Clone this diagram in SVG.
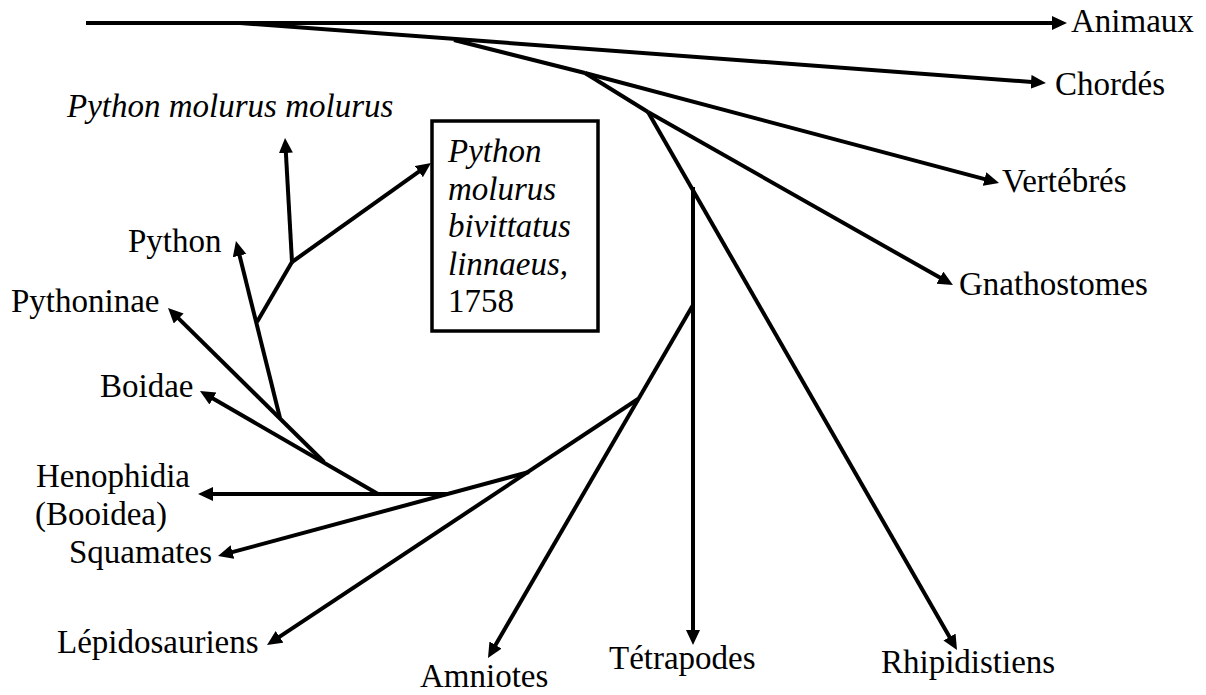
<svg xmlns="http://www.w3.org/2000/svg" width="1206" height="695" viewBox="0 0 1206 695">
<defs>
<marker id="arr" markerUnits="userSpaceOnUse" markerWidth="17" markerHeight="15" refX="7" refY="7" orient="auto">
<path d="M0,0 L15,7 L0,14 z" fill="#000"/>
</marker>
<style>
.l{fill:none;stroke:#000;stroke-width:4}
.a{fill:none;stroke:#000;stroke-width:4;marker-end:url(#arr)}
text{font-family:"Liberation Serif","Times New Roman",serif;font-size:33px;fill:#000}
.i{font-style:italic}
</style>
</defs>
<rect width="1206" height="695" fill="#fff"/>
<g id="connectors">
<line class="a" x1="86" y1="23" x2="1059" y2="23"/>
<line class="a" x1="240" y1="23" x2="1038" y2="82.4"/>
<line class="l" x1="454" y1="40" x2="585" y2="73"/>
<line class="a" x1="585" y1="73" x2="991.3" y2="180.9"/>
<line class="l" x1="585" y1="73" x2="648" y2="112"/>
<line class="a" x1="648" y1="112" x2="946" y2="281.1"/>
<line class="a" x1="648" y1="112" x2="953" y2="643.1"/>
<line class="a" x1="693" y1="187" x2="693" y2="637"/>
<line class="a" x1="693" y1="305" x2="492" y2="651.1"/>
<line class="a" x1="638" y1="399" x2="273.7" y2="640.6"/>
<line class="a" x1="529" y1="472" x2="225.7" y2="553.9"/>
<line class="a" x1="447" y1="494" x2="206" y2="494"/>
<line class="a" x1="378" y1="494" x2="206.9" y2="395"/>
<line class="a" x1="324" y1="462" x2="173.7" y2="313.6"/>
<line class="a" x1="280" y1="418" x2="237.9" y2="248.8"/>
<line class="l" x1="257" y1="322" x2="292" y2="262"/>
<line class="a" x1="292" y1="262" x2="285.5" y2="146"/>
<line class="a" x1="292" y1="262" x2="424.5" y2="167.6"/>
</g>
<g id="n-animaux"><text x="1071" y="32">Animaux</text></g>
<g id="n-chordes"><text x="1055" y="95">Chordés</text></g>
<g id="n-vertebres"><text x="1002" y="192">Vertébrés</text></g>
<g id="n-gnathostomes"><text x="959" y="295">Gnathostomes</text></g>
<g id="n-rhipidistiens"><text x="881" y="673">Rhipidistiens</text></g>
<g id="n-tetrapodes"><text x="609" y="669">Tétrapodes</text></g>
<g id="n-amniotes"><text x="420" y="687">Amniotes</text></g>
<g id="n-lepidosauriens"><text x="57" y="653">Lépidosauriens</text></g>
<g id="n-squamates"><text x="69" y="563">Squamates</text></g>
<g id="n-henophidia"><text x="36" y="487">Henophidia</text><text x="35" y="525">(Booidea)</text></g>
<g id="n-boidae"><text x="100" y="397">Boidae</text></g>
<g id="n-pythoninae"><text x="11" y="312">Pythoninae</text></g>
<g id="n-python"><text x="128" y="252">Python</text></g>
<g id="n-pmm"><text class="i" x="67" y="117">Python molurus molurus</text></g>
<g id="n-pmb">
<rect x="432" y="121" width="166" height="210" fill="none" stroke="#000" stroke-width="3.5"/>
<text class="i" x="448" y="162">Python</text>
<text class="i" x="448" y="199.5">molurus</text>
<text class="i" x="448" y="237">bivittatus</text>
<text class="i" x="448" y="274.5">linnaeus,</text>
<text x="448" y="312">1758</text>
</g>
</svg>
